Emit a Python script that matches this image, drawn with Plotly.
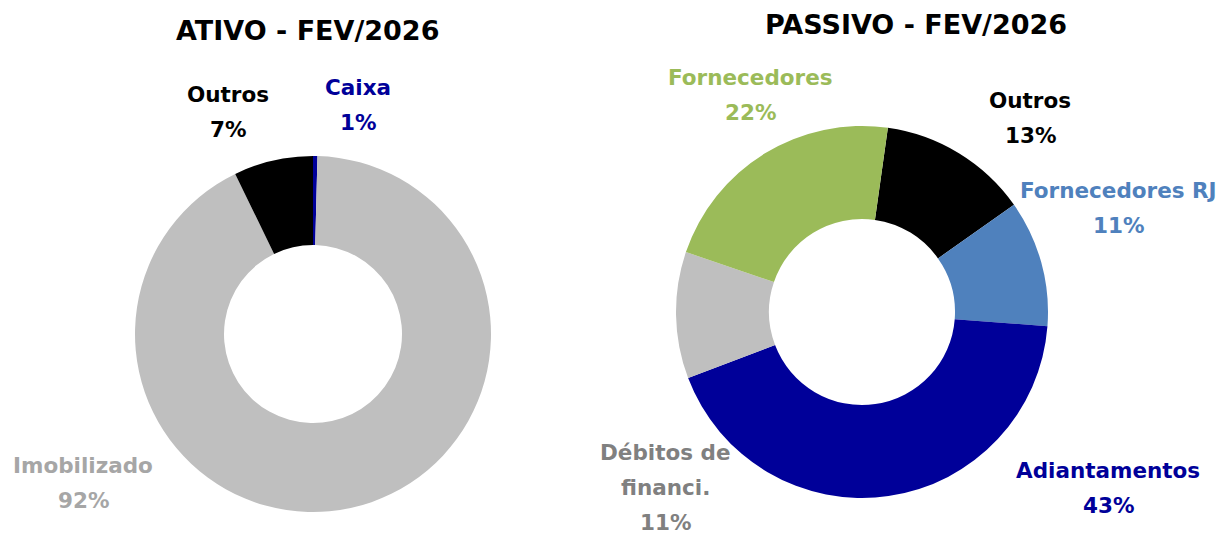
import plotly.graph_objects as go

# -----------------------------------------------------
# dados
# -----------------------------------------------------
ativo_cats = ['Caixa', 'Imobilizado', 'Outros']
ativo_vals = [0.4, 92.4, 7.2]
ativo_pct = ['1%', '92%', '7%']

passivo_cats = ['Outros', 'Fornecedores RJ', 'Adiantamentos', 'Débitos de<br>financi.', 'Fornecedores']
passivo_vals = [13, 11, 43, 11, 22]
passivo_pct = ['13%', '11%', '43%', '11%', '22%']

# -----------------------------------------------------
# estilos
# -----------------------------------------------------
W, H = 1220, 534
FONT = 'DejaVu Sans'
ativo_colors = ['#000099', '#BFBFBF', '#000000']
ativo_text_colors = ['#000099', '#A6A6A6', '#000000']
passivo_colors = ['#000000', '#4F81BD', '#000099', '#BFBFBF', '#9BBB59']
passivo_text_colors = ['#000000', '#4F81BD', '#000099', '#808080', '#9BBB59']

# centro do bloco de texto (px) de cada rótulo
ativo_label_pos = [(358, 105), (83, 483), (228, 112)]
passivo_label_pos = [(1030, 118), (1118, 208), (1108, 488), (665, 487), (750, 95)]
LINE_H = 35


def px_x(x):
    return x / W


def px_y(y):
    return 1 - y / H


def add_labels(fig, cats, pcts, colors, positions):
    for cat, pct, col, (cx, cy) in zip(cats, pcts, colors, positions):
        lines = cat.split('<br>') + [pct]
        y0 = cy - LINE_H * (len(lines) - 1) / 2
        for i, line in enumerate(lines):
            fig.add_annotation(
                x=px_x(cx), y=px_y(y0 + i * LINE_H), xref='paper', yref='paper',
                text=f'<b>{line}</b>', showarrow=False, xanchor='center', yanchor='middle',
                font=dict(family=FONT, size=21.5, color=col)
            )


fig = go.Figure()
fig.add_trace(go.Pie(
    labels=ativo_cats, values=ativo_vals, hole=0.5, sort=False, direction='clockwise',
    rotation=0, marker=dict(colors=ativo_colors, line=dict(width=0)), textinfo='none',
    hoverinfo='label+percent', showlegend=False,
    domain=dict(x=[px_x(135), px_x(491)], y=[px_y(512), px_y(156)])
))
fig.add_trace(go.Pie(
    labels=passivo_cats, values=passivo_vals, hole=0.5, sort=False, direction='clockwise',
    rotation=8, marker=dict(colors=passivo_colors, line=dict(width=0)), textinfo='none',
    hoverinfo='label+percent', showlegend=False,
    domain=dict(x=[px_x(676), px_x(1048)], y=[px_y(498), px_y(126)])
))

add_labels(fig, ativo_cats, ativo_pct, ativo_text_colors, ativo_label_pos)
add_labels(fig, passivo_cats, passivo_pct, passivo_text_colors, passivo_label_pos)

# títulos
for txt, cx, cy in [('ATIVO - FEV/2026', 307, 30), ('PASSIVO - FEV/2026', 916, 24)]:
    fig.add_annotation(
        x=px_x(cx), y=px_y(cy), xref='paper', yref='paper', text=f'<b>{txt}</b>',
        showarrow=False, xanchor='center', yanchor='middle',
        font=dict(family=FONT, size=27, color='#000000')
    )

fig.update_layout(
    width=W, height=H, margin=dict(t=0, b=0, l=0, r=0),
    paper_bgcolor='white', plot_bgcolor='white', showlegend=False
)
# tira a margem padrão do <body> para o gráfico ocupar a janela toda
fig.write_html('out.html', config={'displayModeBar': False},
               post_script="document.body.style.margin='0';")
